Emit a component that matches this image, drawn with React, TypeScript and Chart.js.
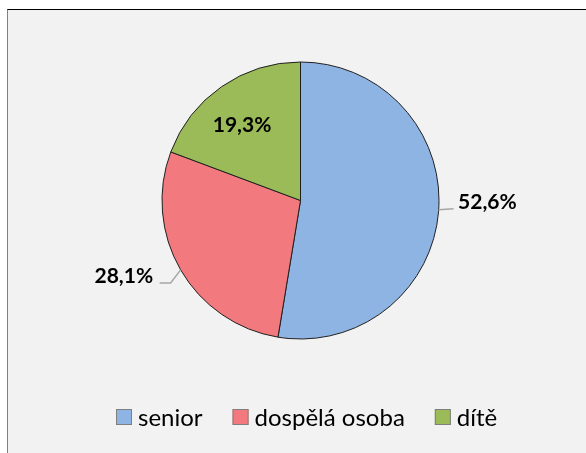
import React, { useEffect, useRef } from "react";
import { Chart, registerables } from "chart.js";

Chart.register(...registerables);

const categories = ["senior", "dospělá osoba", "dítě"];
const values = [52.6, 28.1, 19.3];
const valueLabels = ["52,6%", "28,1%", "19,3%"];
const colors = ["#8EB4E3", "#F2797E", "#9BBB59"];

const labelPlugin = {
  id: "pieLabels",
  afterDatasetsDraw(chart: any) {
    const ctx = chart.ctx as CanvasRenderingContext2D;
    const meta = chart.getDatasetMeta(0);
    ctx.save();
    ctx.font = "bold 21px Lato";
    ctx.fillStyle = "#000000";
    ctx.textBaseline = "alphabetic";
    meta.data.forEach((arc: any, i: number) => {
      const { x, y, startAngle, endAngle, outerRadius } = arc.getProps(
        ["x", "y", "startAngle", "endAngle", "outerRadius"],
        true
      );
      const mid = (startAngle + endAngle) / 2;
      const px = x + Math.cos(mid) * outerRadius;
      const py = y + Math.sin(mid) * outerRadius;
      const text = valueLabels[i];
      if (i === 2) {
        const r = outerRadius * 0.69;
        ctx.textAlign = "center";
        ctx.fillText(text, x + Math.cos(mid) * r - 4, y + Math.sin(mid) * r + 10);
      } else if (Math.cos(mid) >= 0) {
        ctx.strokeStyle = "#A6A6A6";
        ctx.lineWidth = 1.5;
        ctx.beginPath();
        ctx.moveTo(px, py - 2);
        ctx.lineTo(px + 15, py - 3);
        ctx.stroke();
        ctx.textAlign = "left";
        ctx.fillText(text, px + 19.5, py - 3);
      } else {
        ctx.strokeStyle = "#A6A6A6";
        ctx.lineWidth = 1.5;
        ctx.beginPath();
        ctx.moveTo(px, py);
        ctx.lineTo(px - 10, py + 13);
        ctx.lineTo(px - 21, py + 13);
        ctx.stroke();
        ctx.textAlign = "right";
        ctx.fillText(text, px - 27.5, py + 13);
      }
    });
    ctx.restore();
  },
};

const legendPlugin = {
  id: "bottomLegend",
  afterDraw(chart: any) {
    const ctx = chart.ctx as CanvasRenderingContext2D;
    ctx.save();
    ctx.font = "24px Lato";
    const box = 16;
    const gapText = 6;
    const gapItem = 30;
    const labels: string[] = chart.data.labels;
    const bg: string[] = chart.data.datasets[0].backgroundColor;
    const widths = labels.map((c) => ctx.measureText(c).width);
    const total =
      widths.reduce((a, w) => a + box + gapText + w, 0) + gapItem * (labels.length - 1);
    let x = Math.round(306.5 - total / 2);
    const top = 409;
    const baseline = 426;
    labels.forEach((c, i) => {
      ctx.fillStyle = bg[i];
      ctx.fillRect(x, top, box, box);
      ctx.strokeStyle = "#7F7F7F";
      ctx.lineWidth = 1;
      ctx.strokeRect(x + 0.5, top + 0.5, box - 1, box - 1);
      ctx.fillStyle = "#000000";
      ctx.textAlign = "left";
      ctx.textBaseline = "alphabetic";
      ctx.fillText(c, x + box + gapText, baseline);
      x += box + gapText + widths[i] + gapItem;
    });
    ctx.restore();
  },
};

export default function App() {
  const canvasRef = useRef<HTMLCanvasElement | null>(null);

  useEffect(() => {
    if (!canvasRef.current) return;
    const chart = new Chart(canvasRef.current, {
      type: "pie",
      data: {
        labels: categories,
        datasets: [
          {
            data: values,
            backgroundColor: colors,
            borderColor: "#1F1F1F",
            borderWidth: 1,
          },
        ],
      },
      options: {
        responsive: false,
        animation: false,
        devicePixelRatio: 1,
        layout: {
          padding: { top: 61.5, bottom: 113.5, left: 100.5, right: 85.5 },
        },
        plugins: {
          legend: { display: false },
          tooltip: { enabled: false },
        },
      },
      plugins: [labelPlugin, legendPlugin],
    });
    return () => chart.destroy();
  }, []);

  return (
    <div
      style={{
        position: "fixed",
        left: 0,
        top: 0,
        width: 586,
        height: 453,
        background: "#FFFFFF",
        overflow: "hidden",
      }}
    >
      <div
        style={{
          position: "absolute",
          left: 7,
          top: 9,
          right: -10,
          bottom: -10,
          borderTop: "1px solid #000000",
          borderLeft: "1px solid #808080",
          background: "#F2F2F2",
        }}
      />
      <canvas
        ref={canvasRef}
        width={586}
        height={453}
        style={{ position: "absolute", left: 0, top: 0, width: 586, height: 453 }}
      />
    </div>
  );
}
